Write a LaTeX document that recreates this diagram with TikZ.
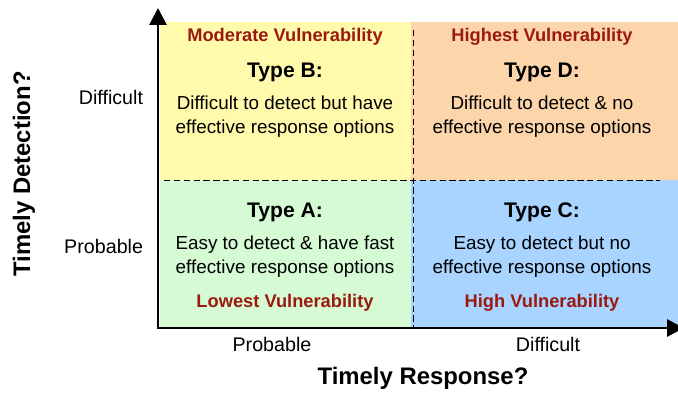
\documentclass[tikz,border=0pt]{standalone}
\usepackage{fontspec}
\setmainfont{Liberation Sans}
\usetikzlibrary{arrows.meta}

\definecolor{quadyellow}{RGB}{255,250,172}
\definecolor{quadorange}{RGB}{252,213,170}
\definecolor{quadgreen}{RGB}{214,250,212}
\definecolor{quadblue}{RGB}{168,212,255}
\definecolor{vulnred}{RGB}{155,26,16}

\tikzset{
  quad/.style={inner sep=0pt},
  vuln/.style={text=vulnred, font=\fontsize{13}{15}\selectfont\bfseries},
  typelabel/.style={font=\fontsize{15}{18}\selectfont\bfseries},
  desc/.style={font=\fontsize{13.4}{17}\selectfont},
  tick/.style={font=\fontsize{14}{16}\selectfont},
  axistitle/.style={font=\fontsize{17}{20}\selectfont\bfseries},
  divider/.style={dashed, line width=0.7pt, dash pattern=on 4.5pt off 2.5pt},
  axis/.style={line width=2pt, {Triangle[length=12pt,width=12pt]}-{Triangle[length=12pt,width=12pt]}}
}

\begin{document}
\begin{tikzpicture}[every node/.style={align=center}]
      \useasboundingbox (0,0) rectangle (16.95,9.8);

      % Quadrant backgrounds
      \node (quadB) [quad, fill=quadyellow, minimum width=6.3cm, minimum height=3.96cm] at (7.16,7.275) {};
      \node (quadD) [quad, fill=quadorange, minimum width=6.7cm, minimum height=3.96cm] at (13.63,7.275) {};
      \node (quadA) [quad, fill=quadgreen, minimum width=6.3cm, minimum height=3.7cm] at (7.16,3.46) {};
      \node (quadC) [quad, fill=quadblue, minimum width=6.7cm, minimum height=3.7cm] at (13.63,3.46) {};

      % Dividers
      \coordinate (vtop) at (10.325,9.05);
      \coordinate (vbot) at (10.325,1.625);
      \coordinate (hleft) at (4.1,5.3);
      \coordinate (hright) at (16.5,5.3);
      \draw[divider] (vtop) -- (vbot);
      \draw[divider] (hleft) -- (hright);

      % Type B
      \node (vulnB) [vuln] at (7.125,8.875) {Moderate Vulnerability};
      \node (typeB) [typelabel] at (7.125,8.0) {Type B:};
      \node (descB) [desc] at (7.125,6.875) {Difficult to detect but have\\effective response options};

      % Type D
      \node (vulnD) [vuln] at (13.55,8.875) {Highest Vulnerability};
      \node (typeD) [typelabel] at (13.55,8.0) {Type D:};
      \node (descD) [desc] at (13.55,6.875) {Difficult to detect \& no\\effective response options};

      % Type A
      \node (typeA) [typelabel] at (7.125,4.5) {Type A:};
      \node (descA) [desc] at (7.125,3.375) {Easy to detect \& have fast\\effective response options};
      \node (vulnA) [vuln] at (7.125,2.225) {Lowest Vulnerability};

      % Type C
      \node (typeC) [typelabel] at (13.55,4.5) {Type C:};
      \node (descC) [desc] at (13.55,3.375) {Easy to detect but no\\effective response options};
      \node (vulnC) [vuln] at (13.55,2.225) {High Vulnerability};

      % Axes
      \coordinate (origin) at (3.95,1.6);
      \coordinate (ytip) at (3.95,9.6);
      \coordinate (xtip) at (17.1,1.6);
      \draw[axis] (ytip) -- (origin) -- (xtip);

      % Axis labels
      \node (xprob) [tick] at (6.8,1.2) {Probable};
      \node (xdiff) [tick] at (13.7,1.2) {Difficult};
      \node (yprob) [tick, anchor=east] at (3.7,3.65) {Probable};
      \node (ydiff) [tick, anchor=east] at (3.7,7.375) {Difficult};
      \node (xtitle) [axistitle] at (10.575,0.35) {Timely Response?};
      \node (ytitle) [axistitle, rotate=90] at (0.6,5.45) {Timely Detection?};

    \end{tikzpicture}
\end{document}
